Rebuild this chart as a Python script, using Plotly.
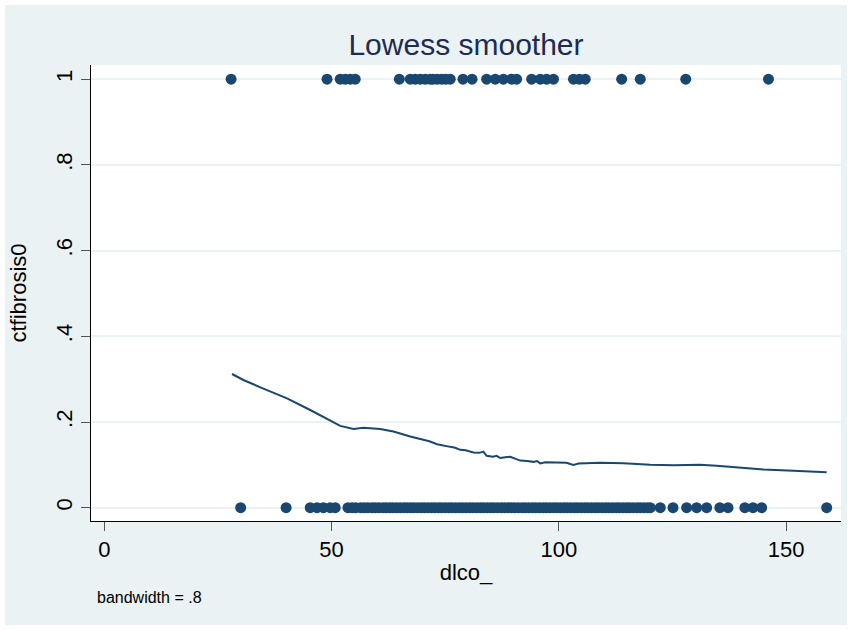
import plotly.graph_objects as go

# ---- data ----
top_x = [27.9, 49.0, 51.9, 53.0, 54.1, 55.2, 64.9, 67.3, 68.4, 69.5, 70.6, 71.7, 72.3,
         73.2, 74.2, 75.1, 76.1, 78.9, 80.9, 84.1, 86.0, 87.8, 89.6, 90.7, 94.0, 95.9,
         97.3, 98.8, 103.2, 104.5, 105.8, 113.8, 117.9, 127.9, 146.1]

bottom_x = [30.0, 40.0, 45.3, 46.8, 48.2, 49.7, 50.8,
            53.6, 54.5, 55.3, 56.4, 57.2, 58.0, 58.9, 59.6, 60.4, 61.3, 62.0, 62.8, 63.5,
            64.3, 65.1, 65.9, 66.6, 67.4, 68.1, 68.9, 69.7, 70.4, 71.2, 72.0, 72.7, 73.5,
            74.2, 75.0, 75.8, 76.5, 77.3, 78.1, 78.8, 79.6, 80.4, 81.1, 81.9, 82.7, 83.4,
            84.2, 85.0, 85.7, 86.5, 87.3, 88.0, 88.8, 89.6, 90.3, 91.1, 91.9, 92.6, 93.4,
            94.2, 94.9, 95.7, 96.5, 97.2, 98.0, 98.8, 99.5, 100.3, 101.1, 101.8, 102.6,
            103.4, 104.1, 104.9, 105.7, 106.4, 107.2, 108.0, 108.7, 109.5, 110.3, 111.0,
            111.8, 112.6, 113.3, 114.1, 114.9, 115.6, 116.4, 117.2, 117.9, 118.7, 119.5,
            120.1, 122.3, 125.1, 128.1, 130.3, 132.5, 135.4, 137.2, 140.9, 142.7, 144.6,
            158.9]

lowess_x = [28.1, 30.6, 35.0, 40.2, 45.3, 50.4, 51.9, 54.8, 57.0, 60.7, 63.6, 67.3,
            70.2, 71.5, 73.2, 74.5, 76.1, 77.2, 78.3, 79.5, 80.4, 81.2, 82.5, 83.4, 84.1,
            85.5, 86.3, 87.1, 88.2, 89.3, 90.5, 91.5, 93.0, 94.4, 95.2, 95.9, 97.0, 98.1,
            100.0, 101.7, 102.5, 103.2, 104.3, 105.4, 109.1, 114.2, 120.1, 125.2, 131.0,
            134.7, 139.8, 145.0, 151.6, 158.9]
lowess_y = [0.312, 0.298, 0.278, 0.255, 0.228, 0.198, 0.191, 0.1835, 0.1867, 0.1836,
            0.178, 0.166, 0.158, 0.155, 0.148, 0.146, 0.142, 0.140, 0.135, 0.134, 0.131,
            0.129, 0.128, 0.131, 0.121, 0.119, 0.121, 0.116, 0.118, 0.119, 0.114, 0.110,
            0.109, 0.107, 0.109, 0.1035, 0.106, 0.106, 0.105, 0.105, 0.102, 0.100, 0.103,
            0.1035, 0.105, 0.1035, 0.100, 0.099, 0.100, 0.098, 0.093, 0.089, 0.086, 0.0826]

x_ticks = [0, 50, 100, 150]
y_ticks = [0, 0.2, 0.4, 0.6, 0.8, 1]
y_ticktext = ["0", ".2", ".4", ".6", ".8", "1"]

NAVY = "#1a476f"
BG = "#eaf2f3"
FONT = "Liberation Sans, Arial, sans-serif"

fig = go.Figure()
fig.add_trace(go.Scatter(x=top_x, y=[1] * len(top_x), mode="markers",
                         marker=dict(color=NAVY, size=11, line=dict(width=0)),
                         showlegend=False, hoverinfo="skip"))
fig.add_trace(go.Scatter(x=bottom_x, y=[0] * len(bottom_x), mode="markers",
                         marker=dict(color=NAVY, size=11, line=dict(width=0)),
                         showlegend=False, hoverinfo="skip"))
fig.add_trace(go.Scatter(x=lowess_x, y=lowess_y, mode="lines",
                         line=dict(color=NAVY, width=2),
                         showlegend=False, hoverinfo="skip"))

L, R, T, B = 91, 11, 65, 109
W, H = 852, 630
pw, ph = W - L - R, H - T - B

def px_x(p):
    return (p - L) / pw

def px_y(p):
    return 1 - (p - T) / ph

fig.update_layout(
    width=W, height=H,
    margin=dict(l=L, r=R, t=T, b=B, pad=0),
    paper_bgcolor=BG, plot_bgcolor="white",
    font=dict(family=FONT, color="black"),
    title=dict(text="Lowess smoother", x=0.5, xref="paper", xanchor="center",
               y=1 - 44 / H, yref="container", yanchor="middle",
               font=dict(size=30, color="#1e2b55", family=FONT)),
    xaxis=dict(range=[-2.92, 162.05], tickvals=x_ticks, ticks="outside", ticklen=9,
               tickcolor="#555555", tickwidth=1, showline=True, linecolor="black",
               linewidth=1, showgrid=False, zeroline=False,
               tickfont=dict(size=22, color="black"),
               title=dict(text="dlco_", font=dict(size=22, color="black"), standoff=3)),
    yaxis=dict(range=[-0.031, 1.033], tickvals=y_ticks, ticktext=y_ticktext,
               tickangle=-90, ticks="outside", ticklen=9, tickcolor="#555555",
               tickwidth=1, showline=True, linecolor="black", linewidth=1,
               showgrid=True, gridcolor=BG, gridwidth=2, zeroline=False,
               tickfont=dict(size=22, color="black"),
               title=dict(text="ctfibrosis0", font=dict(size=22, color="black"),
                          standoff=19)),
    annotations=[dict(text="bandwidth = .8", x=px_x(95), y=px_y(597), xref="paper",
                      yref="paper", xanchor="left", yanchor="middle", showarrow=False,
                      font=dict(size=16, color="black", family=FONT))],
    shapes=[dict(type="rect", xref="paper", yref="paper",
                 x0=px_x(0), x1=px_x(W), y0=px_y(H), y1=px_y(0),
                 line=dict(color="white", width=10), fillcolor="rgba(0,0,0,0)",
                 layer="above")],
)

fig.write_html("out.html", config={"displayModeBar": False},
               post_script="document.body.style.margin='0';")
